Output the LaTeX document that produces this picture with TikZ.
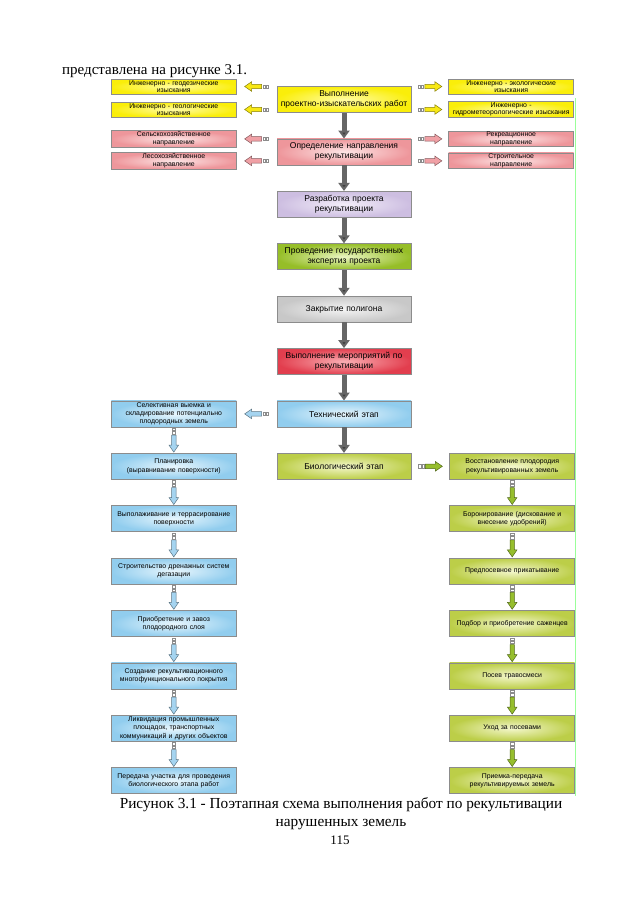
\documentclass[tikz,border=0pt]{standalone}
\usepackage{fontspec}
\setmainfont{Liberation Serif}
\setsansfont{Liberation Sans}
\usetikzlibrary{arrows.meta,positioning,decorations.markings}
\definecolor{yelout}{RGB}{250,238,10}
\definecolor{yelin}{RGB}{255,252,165}
\definecolor{pinkout}{RGB}{238,150,155}
\definecolor{pinkin}{RGB}{253,230,230}
\definecolor{lavout}{RGB}{205,190,225}
\definecolor{lavin}{RGB}{243,238,249}
\definecolor{grnout}{RGB}{150,190,40}
\definecolor{grnin}{RGB}{235,246,195}
\definecolor{gryout}{RGB}{200,200,200}
\definecolor{gryin}{RGB}{244,244,244}
\definecolor{redout}{RGB}{226,62,78}
\definecolor{redin}{RGB}{250,175,180}
\definecolor{bluout}{RGB}{145,205,238}
\definecolor{bluin}{RGB}{232,246,253}
\definecolor{olvout}{RGB}{188,206,72}
\definecolor{olvin}{RGB}{244,247,205}
\definecolor{arryel}{RGB}{248,232,20}
\definecolor{arrpink}{RGB}{240,160,165}
\definecolor{arrblue}{RGB}{165,212,240}
\definecolor{arrgrn}{RGB}{150,190,45}
\tikzset{
  boxbase/.style={rectangle, draw=black!45, line width=0.7pt, align=center, inner sep=1pt},
  cbox/.style={boxbase, minimum width=134pt, minimum height=26pt, text width=131pt,
               font=\fontsize{8.5}{10}\sffamily},
  sbox/.style={boxbase, minimum width=125pt, minimum height=15pt, text width=123pt,
               font=\fontsize{6.9}{7.6}\sffamily},
  lbox/.style={boxbase, minimum width=125pt, minimum height=26pt, text width=123pt,
               font=\fontsize{6.9}{8.2}\sffamily},
  fillyel/.style={inner color=yelin, outer color=yelout},
  fillpink/.style={inner color=pinkin, outer color=pinkout},
  filllav/.style={inner color=lavin, outer color=lavout},
  fillgrn/.style={inner color=grnin, outer color=grnout},
  fillgry/.style={inner color=gryin, outer color=gryout},
  fillred/.style={inner color=redin, outer color=redout},
  fillblu/.style={inner color=bluin, outer color=bluout},
  fillolv/.style={inner color=olvin, outer color=olvout},
  midarr/.style={line width=5pt, draw=black!60, -{Triangle[length=8pt, width=11pt, fill=black!75]}},
  pics/blockarr/.style={code={
    \draw[draw=#1!55!black, fill=#1, line width=0.5pt]
      (-5,-2.2) -- (5,-2.2) -- (5,-4.8) -- (12,0) -- (5,4.8) -- (5,2.2) -- (-5,2.2) -- cycle;
    \draw[draw=black!45, fill=white, line width=0.4pt]
      (-12,-1.7) rectangle (-9.6,1.7) (-8.6,-1.7) rectangle (-6.2,1.7);
  }},
  sidearr/.style={decoration={markings, mark=at position 0.5 with {\pic[transform shape]{blockarr=#1};}},
                  postaction={decorate}},
}

\begin{document}
\begin{tikzpicture}[x=1pt, y=-1pt, node distance=25.7pt and 40pt]
\useasboundingbox (0,0) rectangle (640,905);
\node[anchor=base west, inner sep=0pt, font=\fontsize{15}{17}\selectfont] (intro) at (62,74) {представлена на рисунке 3.1.};
% center column
\node[cbox, fillyel] (pir) at (344,99.5) {Выполнение\\проектно-изыскательских работ};
\node[cbox, fillpink, below=of pir] (napr) {Определение направления\\рекультивации};
\node[cbox, filllav, below=of napr] (proekt) {Разработка проекта\\рекультивации};
\node[cbox, fillgrn, below=of proekt] (ekspert) {Проведение государственных\\экспертиз проекта};
\node[cbox, fillgry, below=of ekspert] (zakr) {Закрытие полигона};
\node[cbox, fillred, below=of zakr] (merop) {Выполнение мероприятий по\\рекультивации};
\node[cbox, fillblu, below=of merop] (tech) {Технический этап};
\node[cbox, fillolv, below=of tech] (bio) {Биологический этап};
% surveys and directions
\node[sbox, fillyel, left=40pt of pir, yshift=13pt] (geod) {Инженерно - геодезические\\изыскания};
\node[sbox, fillyel, left=40pt of pir, yshift=-10pt] (geol) {Инженерно - геологические\\изыскания};
\node[sbox, fillyel, right=37pt of pir, yshift=13pt] (ekol) {Инженерно - экологические\\изыскания};
\node[sbox, fillyel, right=37pt of pir, yshift=-10pt] (gidro) {Инженерно -\\гидрометеорологические изыскания};
\node[sbox, fillpink, left=40pt of napr, yshift=13pt] (selh) {Сельскохозяйственное\\направление};
\node[sbox, fillpink, left=40pt of napr, yshift=-9pt] (lesh) {Лесохозяйственное\\направление};
\node[sbox, fillpink, right=37pt of napr, yshift=13pt] (rekr) {Рекреационное\\направление};
\node[sbox, fillpink, right=37pt of napr, yshift=-9pt] (stroit) {Строительное\\направление};
% technical stage
\node[lbox, fillblu, left=40pt of tech] (sel) {Селективная выемка и\\складирование потенциально\\плодородных земель};
\node[lbox, fillblu, below=of sel] (plan) {Планировка\\(выравнивание поверхности)};
\node[lbox, fillblu, below=of plan] (vypol) {Выполаживание и террасирование\\поверхности};
\node[lbox, fillblu, below=of vypol] (dren) {Строительство дренажных систем\\дегазации};
\node[lbox, fillblu, below=of dren] (zavoz) {Приобретение и завоз\\плодородного слоя};
\node[lbox, fillblu, below=of zavoz] (pokr) {Создание рекультивационного\\многофункционального покрытия};
\node[lbox, fillblu, below=of pokr] (likv) {Ликвидация промышленных\\площадок, транспортных\\коммуникаций и других объектов};
\node[lbox, fillblu, below=of likv] (pered) {Передача участка для проведения\\биологического этапа работ};
% biological stage
\node[lbox, fillolv, right=38pt of bio] (vosst) {Восстановление плодородия\\рекультивированных земель};
\node[lbox, fillolv, below=of vosst] (boron) {Боронирование (дискование и\\внесение удобрений)};
\node[lbox, fillolv, below=of boron] (prikat) {Предпосевное прикатывание};
\node[lbox, fillolv, below=of prikat] (sazh) {Подбор и приобретение саженцев};
\node[lbox, fillolv, below=of sazh] (posev) {Посев травосмеси};
\node[lbox, fillolv, below=of posev] (uhod) {Уход за посевами};
\node[lbox, fillolv, below=of uhod] (priem) {Приемка-передача\\рекультивируемых земель};
% arrows
\foreach \a/\b in {pir/napr, napr/proekt, proekt/ekspert, ekspert/zakr, zakr/merop, merop/tech, tech/bio}
  \draw[midarr] (\a) -- (\b);
\foreach \s in {geod,geol} \path[sidearr=arryel] (pir.west |- \s.east) -- (\s.east);
\foreach \s in {ekol,gidro} \path[sidearr=arryel] (pir.east |- \s.west) -- (\s.west);
\foreach \s in {selh,lesh} \path[sidearr=arrpink] (napr.west |- \s.east) -- (\s.east);
\foreach \s in {rekr,stroit} \path[sidearr=arrpink] (napr.east |- \s.west) -- (\s.west);
\path[sidearr=arrblue] (tech) -- (sel);
\foreach \a/\b in {sel/plan, plan/vypol, vypol/dren, dren/zavoz, zavoz/pokr, pokr/likv, likv/pered}
  \path[sidearr=arrblue] (\a) -- (\b);
\path[sidearr=arrgrn] (bio) -- (vosst);
\foreach \a/\b in {vosst/boron, boron/prikat, prikat/sazh, sazh/posev, posev/uhod, uhod/priem}
  \path[sidearr=arrgrn] (\a) -- (\b);
% edge of the scanned figure
\draw[green!40, line width=0.7pt] (575,98) -- (575,796);
% caption
\node[anchor=base, font=\fontsize{15.3}{18}\selectfont] (cap) at (341,808) {Рисунок 3.1 - Поэтапная схема выполнения работ по рекультивации};
\node[anchor=base, font=\fontsize{15.3}{18}\selectfont] (cap2) at (341,826) {нарушенных земель};
\node[anchor=base, font=\fontsize{13}{15}\selectfont] (page) at (340,844) {115};
\end{tikzpicture}
\end{document}
